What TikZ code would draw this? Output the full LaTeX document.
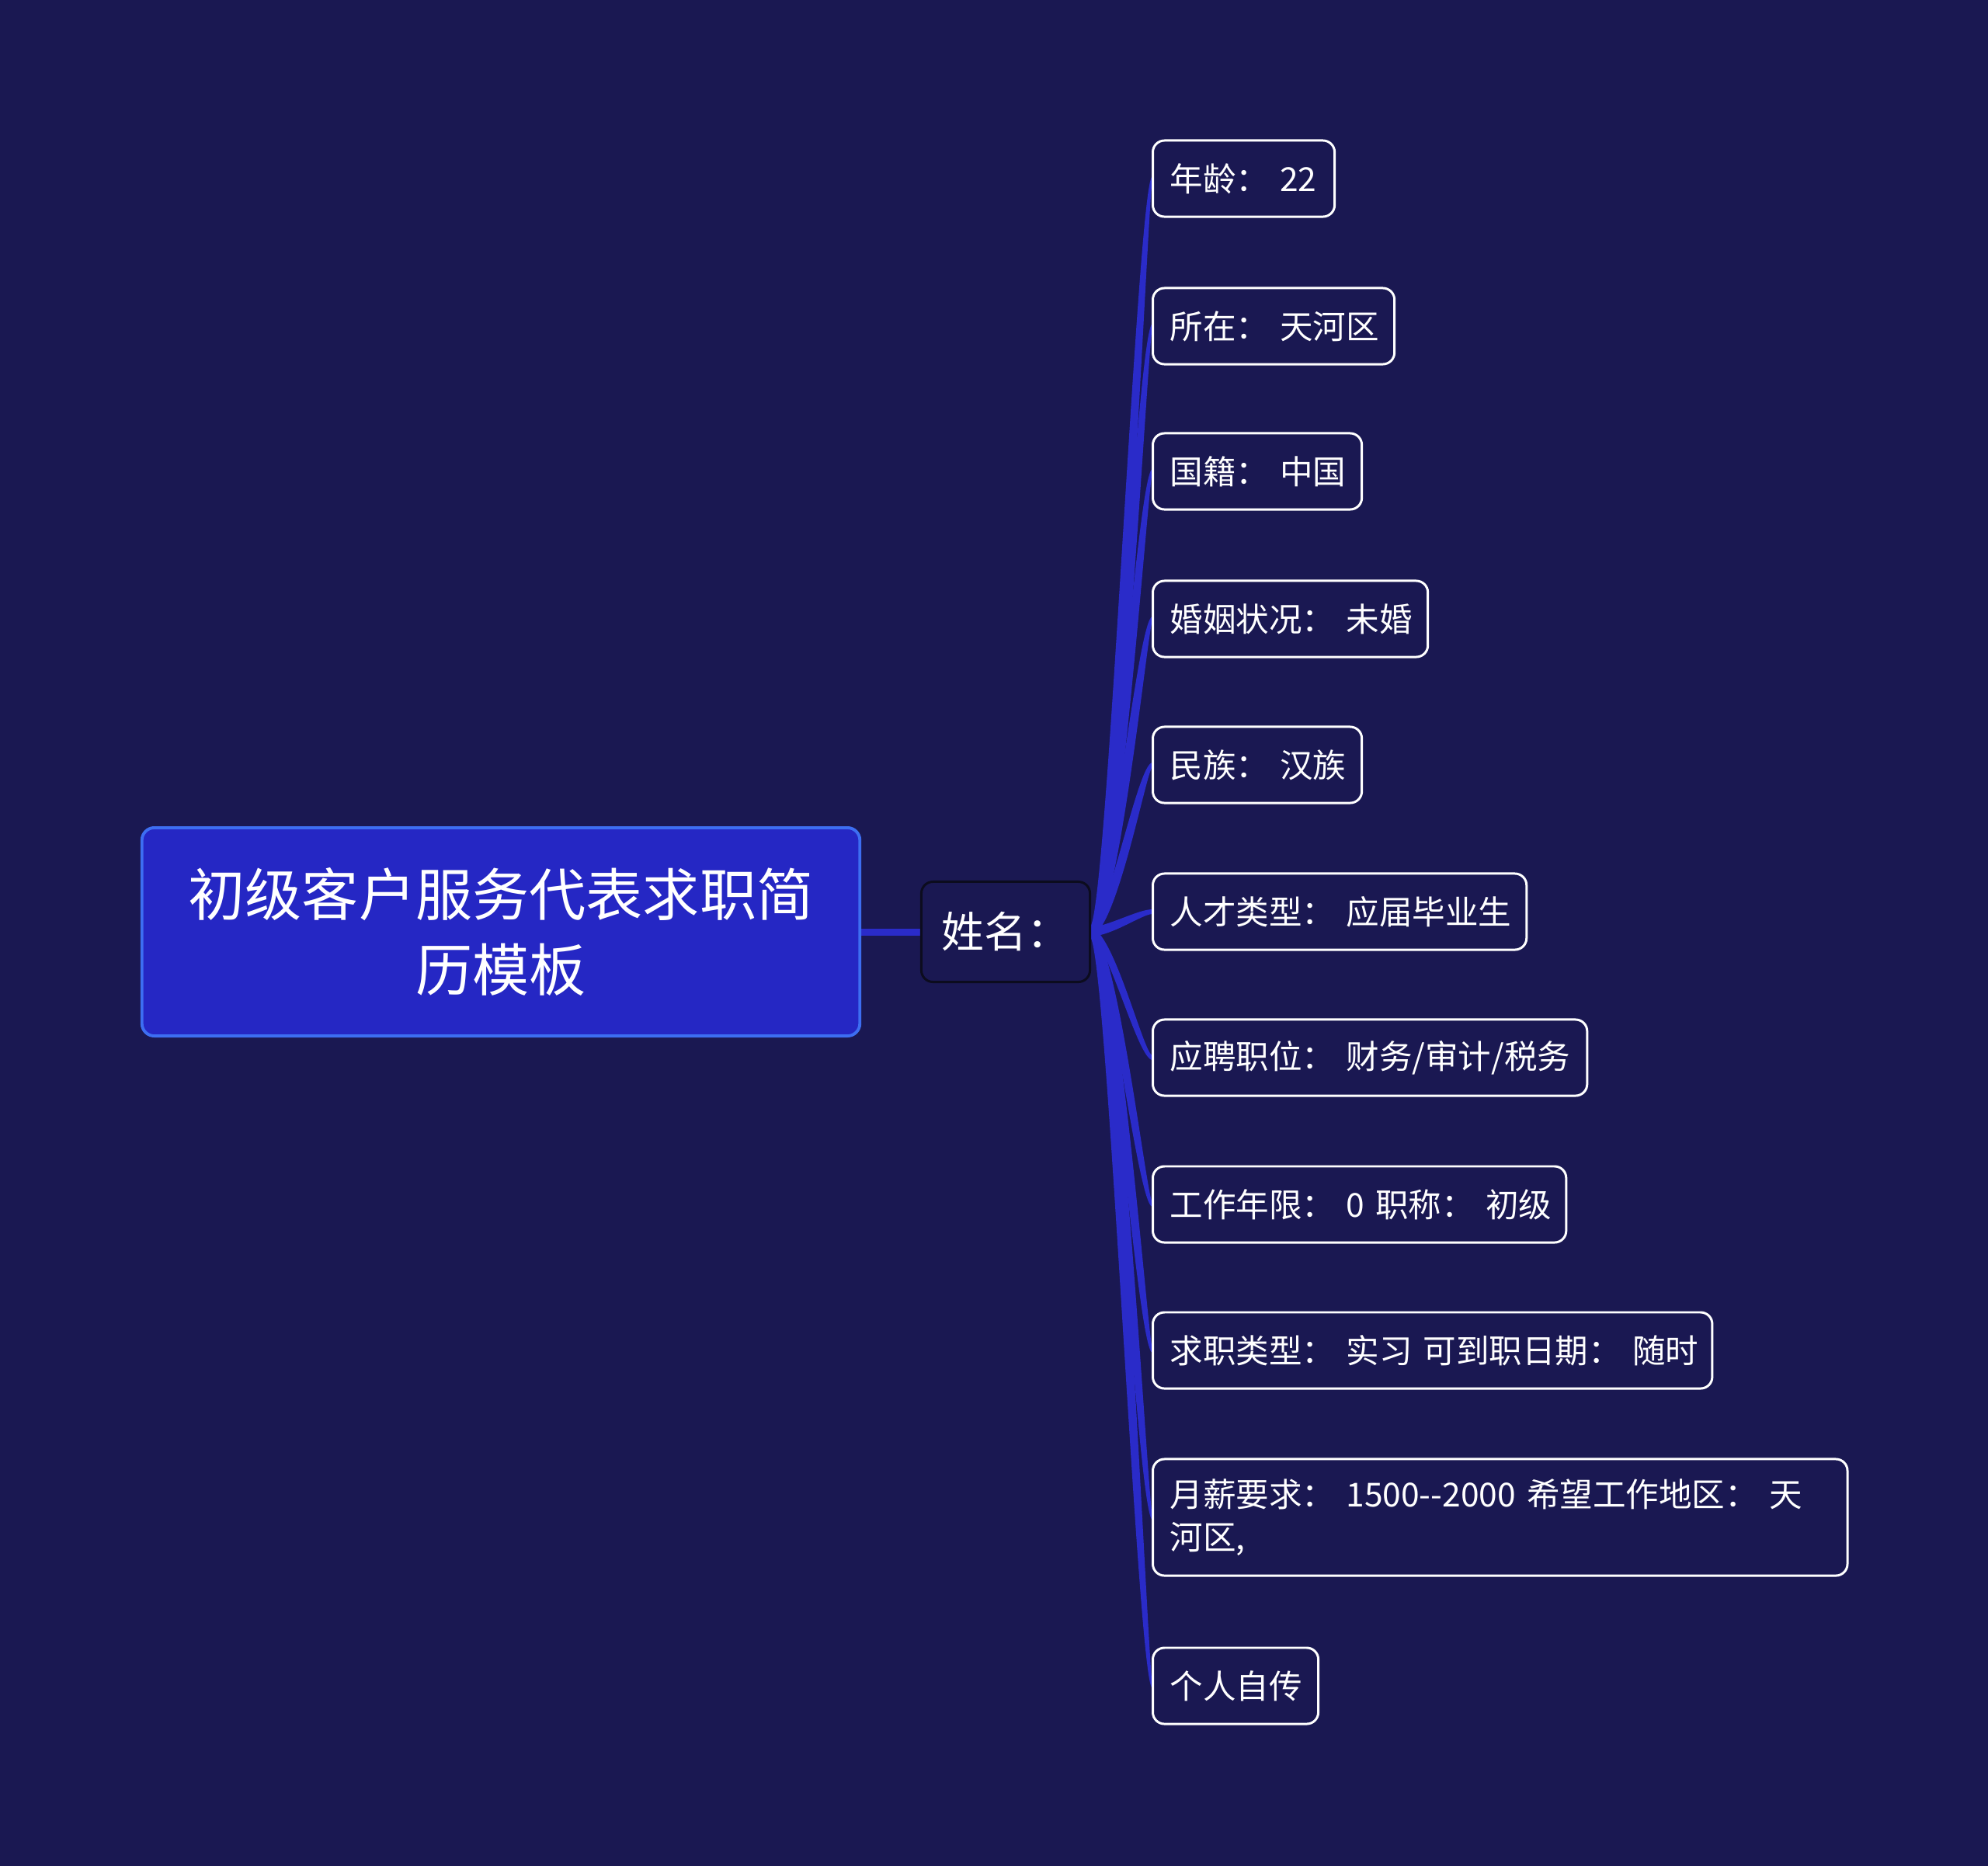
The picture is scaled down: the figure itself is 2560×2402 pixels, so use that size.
\documentclass[tikz,border=0pt]{standalone}
\usepackage{fontspec}
\newfontfamily\cjk{Noto Sans CJK SC}
\usetikzlibrary{calc}
\pgfdeclarelayer{back}
\pgfsetlayers{back,main}
\definecolor{bgc}{HTML}{1A1852}
\definecolor{rootfill}{HTML}{2527C4}
\definecolor{rootline}{HTML}{3D6EF2}
\definecolor{linkc}{HTML}{2A2BC9}
\definecolor{midline}{HTML}{0C0C1E}
\newcommand\branch[3]{%
  \fill[branchfill] ($(mid.east)+(-2,-6)$) .. controls ($(mid.east)+(20+#2,-6)$) and ($(#1.west)+(-18+#2,-3)$) .. ($(#1.west)+(1,-3)$)
   -- ($(#1.west)+(1,3)$) .. controls ($(#1.west)+(-18+#3,3)$) and ($(mid.east)+(20+#3,6)$) .. ($(mid.east)+(-2,6)$) -- cycle;}
\begin{document}
\begin{tikzpicture}[x=0.01cm,y=-0.01cm,
  rootbox/.style={draw=rootline, line width=1.1pt, fill=rootfill, rounded corners=0.16cm,
    minimum width=9.24cm, minimum height=2.68cm, align=center, text=white,
    font=\cjk\fontsize{20.8pt}{27.5pt}\selectfont},
  midbox/.style={draw=midline, line width=0.85pt, fill=bgc, rounded corners=0.15cm,
    minimum width=2.17cm, minimum height=1.29cm, align=center, text=white,
    font=\cjk\fontsize{15.6pt}{19pt}\selectfont},
  leaf/.style={draw=white, line width=0.85pt, fill=bgc, rounded corners=0.15cm,
    inner xsep=0.22cm, inner ysep=0pt, minimum height=0.98cm, align=left, text=white,
    anchor=west, font=\cjk\fontsize{12.1pt}{15.6pt}\selectfont},
  branchfill/.style={fill=linkc},
  trunk/.style={draw=linkc, line width=0.09cm}]
\useasboundingbox (0,0) rectangle (2560,2402);
\begin{pgfonlayer}{back}
\fill[bgc] (-10,-10) rectangle (2570,2412);
\end{pgfonlayer}

\node[rootbox] (root) at (645,1200) {初级客户服务代表求职简\\历模板};
\node[midbox] (mid) at (1295,1200) {姓名：};

\node[leaf, text width=1.90cm] (l1) at (1483,230) {年龄：~22};
\node[leaf, text width=2.67cm] (l2) at (1483,420) {所在：~天河区};
\node[leaf, text width=2.25cm] (l3) at (1483,607) {国籍：~中国};
\node[leaf, text width=3.10cm] (l4) at (1483,797) {婚姻状况：~未婚};
\node[leaf, text width=2.25cm] (l5) at (1483,985) {民族：~汉族};
\node[leaf, text width=4.37cm] (l6) at (1483,1174) {人才类型：~应届毕业生};
\node[leaf, text width=5.15cm] (l7) at (1483,1362) {应聘职位：~财务/审计/税务};
\node[leaf, text width=4.88cm] (l8) at (1483,1551) {工作年限：~0~职称：~初级};
\node[leaf, text width=6.76cm] (l9) at (1483,1739) {求职类型：~实习~可到职日期：~随时};
\node[leaf, text width=8.50cm, minimum height=1.50cm] (l10) at (1483,1954) {月薪要求：~1500--2000~希望工作地区：~天\\河区,};
\node[leaf, text width=1.69cm] (l11) at (1483,2171) {个人自传};

\begin{pgfonlayer}{back}
\draw[trunk] (root.east) -- (mid.west);
\branch{l1}{0}{14}
\branch{l2}{0}{14}
\branch{l3}{0}{14}
\branch{l4}{0}{14}
\branch{l5}{0}{12}
\branch{l6}{0}{6}
\branch{l7}{8}{0}
\branch{l8}{12}{0}
\branch{l9}{14}{0}
\branch{l10}{14}{0}
\branch{l11}{14}{0}
\end{pgfonlayer}
\end{tikzpicture}
\end{document}
